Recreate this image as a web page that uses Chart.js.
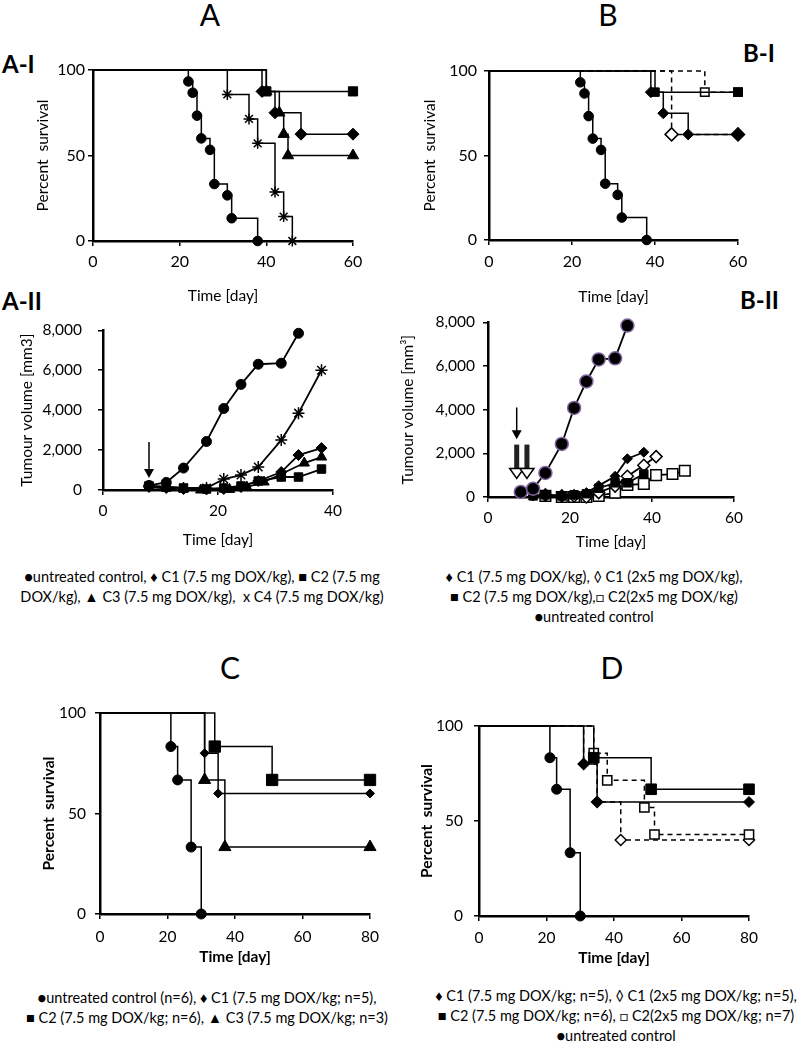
<!DOCTYPE html>
<html>
<head>
<meta charset="utf-8">
<script src="https://cdn.jsdelivr.net/npm/chart.js@4.4.1/dist/chart.umd.min.js"></script>
<style>
  body { margin: 0; background: #fff; width: 800px; height: 1044px; position: relative; overflow: hidden; font-family: Lato, sans-serif; color: #000; }
  .box { position: absolute; }
  .t { position: absolute; white-space: pre; transform: translate(-50%, -50%); }
  .big { font-size: 30px; }
  .lab { position: absolute; font-size: 24px; font-weight: bold; transform: translateY(-50%); }
  .leg { position: absolute; font-size: 14.5px; white-space: pre; transform: translateX(-50%); text-align: center; line-height: 20px; }
</style>
</head>
<body>

<div class="t big" style="left:210px;top:14px">A</div>
<div class="t big" style="left:608px;top:14px">B</div>
<div class="lab" style="left:2px;top:63px">A-I</div>
<div class="lab" style="left:2px;top:300px">A-II</div>
<div class="lab" style="left:743px;top:52px">B-I</div>
<div class="lab" style="left:740px;top:299px">B-II</div>
<div class="t big" style="left:230px;top:667px">C</div>
<div class="t big" style="left:612px;top:667px">D</div>

<div class="box" id="wAI"><canvas id="cAI"></canvas></div>
<div class="box" id="wBI"><canvas id="cBI"></canvas></div>
<div class="box" id="wAII"><canvas id="cAII"></canvas></div>
<div class="box" id="wBII"><canvas id="cBII"></canvas></div>
<div class="box" id="wC"><canvas id="cC"></canvas></div>
<div class="box" id="wD"><canvas id="cD"></canvas></div>

<div class="leg" style="left:202px;top:567px">●untreated control, ♦ C1 (7.5 mg DOX/kg), ■ C2 (7.5 mg
DOX/kg), ▲ C3 (7.5 mg DOX/kg),  x C4 (7.5 mg DOX/kg)</div>
<div class="leg" style="left:594px;top:567px">♦ C1 (7.5 mg DOX/kg), ◊ C1 (2x5 mg DOX/kg),
■ C2 (7.5 mg DOX/kg),□ C2(2x5 mg DOX/kg)
●untreated control</div>
<div class="leg" style="left:207px;top:988px">●untreated control (n=6), ♦ C1 (7.5 mg DOX/kg; n=5),
■ C2 (7.5 mg DOX/kg; n=6), ▲ C3 (7.5 mg DOX/kg; n=3)</div>
<div class="leg" style="left:616px;top:986px">♦ C1 (7.5 mg DOX/kg; n=5), ◊ C1 (2x5 mg DOX/kg; n=5),
■ C2 (7.5 mg DOX/kg; n=6), □ C2(2x5 mg DOX/kg; n=7)
●untreated control</div>

<script>
// ---- survival, panels A-I and B-I (day, percent survival)
const ctrlDays = [0, 22, 23, 24, 25, 27, 28, 31, 32, 38];
const ctrlSurv = [100, 93.3, 86.7, 73.3, 60, 53.3, 33.3, 26.7, 13.3, 0];
const c1Days = [0, 39, 42, 48, 60];
const c1Surv = [100, 87.5, 75, 62.5, 62.5];
const c2Days = [0, 40, 60];
const c2Surv = [100, 87.5, 87.5];
const c3Days = [0, 40, 43, 44, 45, 60];
const c3Surv = [100, 87.5, 75, 62.5, 50, 50];
const c4Days = [0, 31, 36, 38, 42, 44, 46];
const c4Surv = [100, 85.7, 71.4, 57.1, 28.6, 14.3, 0];
const c1bDays = [0, 44, 60];          // C1 2x5 mg
const c1bSurv = [100, 62.5, 62.5];
const c2bDays = [0, 52, 60];          // C2 2x5 mg
const c2bSurv = [100, 87.5, 87.5];

// ---- tumour volume, panel A-II (day, mm3)
const aCtrlDays = [8, 11, 14, 18, 21, 24, 27, 31, 34];
const aCtrlVol  = [230, 380, 1100, 2430, 4080, 5290, 6300, 6350, 7850];
const aC1Days = [8, 11, 14, 18, 21, 24, 27, 31, 34, 38];
const aC1Vol  = [150, 100, 50, 30, 50, 150, 450, 900, 1750, 2100];
const aC2Days = [8, 11, 14, 18, 21, 24, 27, 31, 34, 38];
const aC2Vol  = [200, 150, 100, 50, 100, 200, 450, 650, 650, 1050];
const aC3Days = [8, 11, 14, 17, 22, 25, 28, 31, 35, 38];
const aC3Vol  = [150, 100, 50, 0, 30, 150, 400, 800, 1350, 1650];
const aC4Days = [8, 11, 14, 18, 21, 24, 27, 31, 34, 38];
const aC4Vol  = [200, 150, 100, 100, 550, 750, 1150, 2500, 3850, 6000];

// ---- tumour volume, panel B-II
const bCtrlDays = [8, 11, 14, 18, 21, 24, 27, 31, 34];
const bCtrlVol  = [230, 380, 1100, 2430, 4080, 5290, 6300, 6350, 7850];
const bC1Days  = [11, 14, 18, 21, 24, 27, 31, 34, 38];
const bC1Vol   = [50, 100, 50, 100, 200, 520, 950, 1750, 2050];
const bC1bDays = [14, 18, 21, 24, 27, 31, 34, 38, 41];
const bC1bVol  = [100, 50, 50, 0, 200, 500, 950, 1450, 1850];
const bC2Days  = [11, 14, 18, 21, 24, 27, 31, 34, 38];
const bC2Vol   = [50, 100, 50, 100, 150, 400, 650, 650, 1050];
const bC2bDays = [14, 18, 21, 24, 27, 31, 34, 38, 41, 45, 48];
const bC2bVol  = [50, 0, 0, 0, 50, 200, 550, 600, 1000, 1050, 1200];

// dosing arrows (day, from volume, to volume)
const aArrows = [{x: 8, from: 2400, to: 600}];
const bArrows = [{x: 7, from: 4100, to: 2650}, {x: 7, from: 2400, to: 850, open: true}, {x: 9.5, from: 2400, to: 850, open: true}];

// ---- survival, panels C and D
const cCtrlDays = [0, 21, 23, 27, 30];
const cCtrlSurv = [100, 83.3, 66.7, 33.3, 0];
const cC1Days = [0, 31, 35, 80];
const cC1Surv = [100, 80, 60, 60];
const cC2Days = [0, 34, 51, 80];
const cC2Surv = [100, 83.3, 66.7, 66.7];
const cC3Days = [0, 31, 37, 80];
const cC3Surv = [100, 66.7, 33.3, 33.3];
const dC1bDays = [0, 31, 35, 42, 80];
const dC1bSurv = [100, 80, 60, 40, 40];
const dC2bDays = [0, 34, 38, 49, 52, 80];
const dC2bSurv = [100, 85.7, 71.4, 57.1, 42.9, 42.9];

Chart.defaults.font.family = 'Lato, sans-serif';
Chart.defaults.color = '#000';

const arrowPlugin = {
  id: 'arrows',
  afterDatasetsDraw(chart, args, opts) {
    const items = opts.items || [];
    const {ctx, scales: {x, y}} = chart;
    ctx.save();
    items.forEach(a => {
      const px = x.getPixelForValue(a.x);
      const y0 = y.getPixelForValue(a.from), y1 = y.getPixelForValue(a.to);
      if (a.open) {
        ctx.fillStyle = '#222';
        ctx.fillRect(px - 2.5, y0, 5, y1 - 10 - y0);
        ctx.beginPath();
        ctx.moveTo(px - 7, y1 - 10); ctx.lineTo(px + 7, y1 - 10); ctx.lineTo(px, y1); ctx.closePath();
        ctx.fillStyle = '#fff'; ctx.fill();
        ctx.strokeStyle = '#000'; ctx.lineWidth = 1.5; ctx.stroke();
      } else {
        ctx.strokeStyle = '#000'; ctx.lineWidth = 1.5;
        ctx.beginPath(); ctx.moveTo(px, y0); ctx.lineTo(px, y1 - 8); ctx.stroke();
        ctx.beginPath();
        ctx.moveTo(px - 5, y1 - 9); ctx.lineTo(px + 5, y1 - 9); ctx.lineTo(px, y1); ctx.closePath();
        ctx.fillStyle = '#000'; ctx.fill();
      }
    });
    ctx.restore();
  }
};

// where each plot sits on the page
const frames = {
  AI:  {box: {l: 0, t: 50, w: 390, h: 260},   area: {l: 93, t: 70, r: 353, b: 241},  xTick: 262, yTick: 85,  xTitle: 296, yTitle: 43},
  BI:  {box: {l: 400, t: 50, w: 390, h: 260}, area: {l: 489, t: 71, r: 738, b: 240}, xTick: 262, yTick: 477, xTitle: 297, yTitle: 430},
  AII: {box: {l: 0, t: 305, w: 390, h: 255},  area: {l: 103, t: 321, r: 333, b: 490}, xTick: 511, yTick: 82, xTitle: 540, yTitle: 27},
  BII: {box: {l: 395, t: 305, w: 395, h: 255}, area: {l: 488, t: 315, r: 734, b: 497}, xTick: 518, yTick: 475, xTitle: 542, yTitle: 408},
  C:   {box: {l: 0, t: 690, w: 400, h: 280},  area: {l: 100, t: 713, r: 370, b: 914}, xTick: 937, yTick: 86, xTitle: 957, yTitle: 49},
  D:   {box: {l: 400, t: 690, w: 400, h: 280}, area: {l: 479, t: 726, r: 749, b: 916}, xTick: 938, yTick: 463, xTitle: 958, yTitle: 427}
};

function series(days, vals, o) {
  return Object.assign({
    data: days.map((d, i) => ({x: d, y: vals[i]})),
    borderColor: '#000', borderWidth: 1.5, backgroundColor: '#000',
    pointBackgroundColor: '#000', pointBorderColor: '#000', pointBorderWidth: 1,
    clip: false, tension: 0
  }, o);
}

// Kaplan-Meier step line, no marker at the start point
function km(days, vals, style, r, o) {
  return series(days, vals, Object.assign({
    stepped: 'before', pointStyle: style,
    pointRadius: c => c.dataIndex === 0 ? 0 : r, pointHoverRadius: 0
  }, o));
}

const open = {pointBackgroundColor: '#fff', pointBorderWidth: 1.5, borderDash: [5, 4]};

function draw(name, datasets, s) {
  const f = frames[name];
  const wrap = document.getElementById('w' + name);
  wrap.style.left = f.box.l + 'px'; wrap.style.top = f.box.t + 'px';
  wrap.style.width = f.box.w + 'px'; wrap.style.height = f.box.h + 'px';
  const tl = 5;
  const tickFont = {size: s.tick};
  const titleFont = {size: s.title, weight: s.bold ? 'bold' : 'normal'};
  const axisLine = {display: true, color: '#000', width: s.axisW};
  const grid = {display: true, drawOnChartArea: false, drawTicks: true, tickLength: tl, color: '#000', lineWidth: 1.5};
  new Chart(document.getElementById('c' + name), {
    type: 'line',
    data: {datasets},
    plugins: [arrowPlugin],
    options: {
      responsive: true, maintainAspectRatio: false, animation: false,
      events: [],
      layout: {padding: {left: 0, top: f.area.t - f.box.t, right: f.box.l + f.box.w - f.area.r, bottom: 0}},
      plugins: {legend: {display: false}, tooltip: {enabled: false}, arrows: {items: s.arrows || []}},
      scales: {
        x: {
          type: 'linear', min: 0, max: s.xMax,
          ticks: {stepSize: 20, font: tickFont, padding: f.xTick - f.area.b - tl - s.tick * 0.6, maxRotation: 0},
          grid, border: axisLine,
          title: {display: true, text: 'Time [day]', font: titleFont,
                  padding: {top: 0, bottom: f.box.t + f.box.h - f.xTitle - s.title * 0.6}},
          afterFit: sc => { sc.height = f.box.t + f.box.h - f.area.b; }
        },
        y: {
          type: 'linear', min: 0, max: s.yMax,
          ticks: {stepSize: s.yStep, font: tickFont, padding: f.area.l - tl - f.yTick,
                  callback: v => v.toLocaleString('en-US')},
          grid, border: axisLine,
          title: {display: true, text: s.yText, font: titleFont,
                  padding: {top: f.yTitle - f.box.l - s.title * 0.6, bottom: 0}},
          afterFit: sc => { sc.width = f.area.l - f.box.l; }
        }
      }
    }
  });
}

const surv = {xMax: 60, yMax: 100, yStep: 50, tick: 16, title: 15.5, axisW: 2.5, yText: 'Percent  survival'};

draw('AI', [
  km(c2Days, c2Surv, 'rect', 6.5),
  km(c1Days, c1Surv, 'rectRot', 6),
  km(c3Days, c3Surv, 'triangle', 6.5),
  km(c4Days, c4Surv, 'star', 5.5, {pointBorderWidth: 1.5}),
  km(ctrlDays, ctrlSurv, 'circle', 4.8)
], surv);

draw('BI', [
  km(c2Days, c2Surv, 'rect', 6),
  km(c1Days, c1Surv, 'rectRot', 5.5),
  km(c2bDays, c2bSurv, 'rect', 6, open),
  km(c1bDays, c1bSurv, 'rectRot', 6.5, open),
  km(ctrlDays, ctrlSurv, 'circle', 4.8)
], surv);

const vol = {xMax: 40, yMax: 8000, yStep: 2000, tick: 15.5, title: 15.5, axisW: 2.5, yText: 'Tumour volume [mm3]'};
const pt = (style, r, o) => Object.assign({pointStyle: style, pointRadius: r, pointHoverRadius: 0, borderWidth: 1.8}, o);

draw('AII', [
  series(aCtrlDays, aCtrlVol, pt('circle', 5)),
  series(aC1Days, aC1Vol, pt('rectRot', 5.5)),
  series(aC3Days, aC3Vol, pt('triangle', 6)),
  series(aC2Days, aC2Vol, pt('rect', 6)),
  series(aC4Days, aC4Vol, pt('star', 6, {pointBorderWidth: 1.5}))
], Object.assign({}, vol, {arrows: aArrows}));

draw('BII', [
  series(bCtrlDays, bCtrlVol, pt('circle', 6.5, {pointBorderColor: '#8064a2', pointBorderWidth: 1.5})),
  series(bC1Days, bC1Vol, pt('rectRot', 5)),
  series(bC2Days, bC2Vol, pt('rect', 6)),
  series(bC1bDays, bC1bVol, pt('rectRot', 6, {pointBackgroundColor: '#fff', pointBorderWidth: 1.5})),
  series(bC2bDays, bC2bVol, pt('rect', 7.5, {pointBackgroundColor: '#fff', pointBorderWidth: 1.5}))
], Object.assign({}, vol, {xMax: 60, yText: 'Tumour volume [mm³]', arrows: bArrows}));

const late = {xMax: 80, yMax: 100, yStep: 50, tick: 15.5, title: 15.5, bold: true, axisW: 2.5, yText: 'Percent  survival'};

draw('C', [
  km(cC2Days, cC2Surv, 'rect', 8),
  km(cC1Days, cC1Surv, 'rectRot', 4.5),
  km(cC3Days, cC3Surv, 'triangle', 7),
  km(cCtrlDays, cCtrlSurv, 'circle', 5)
], late);

draw('D', [
  km(cC2Days, cC2Surv, 'rect', 7.5),
  km(cC1Days, cC1Surv, 'rectRot', 5.5),
  km(dC2bDays, dC2bSurv, 'rect', 6.5, open),
  km(dC1bDays, dC1bSurv, 'rectRot', 5.5, open),
  km(cCtrlDays, cCtrlSurv, 'circle', 5)
], late);
</script>
</body>
</html>
